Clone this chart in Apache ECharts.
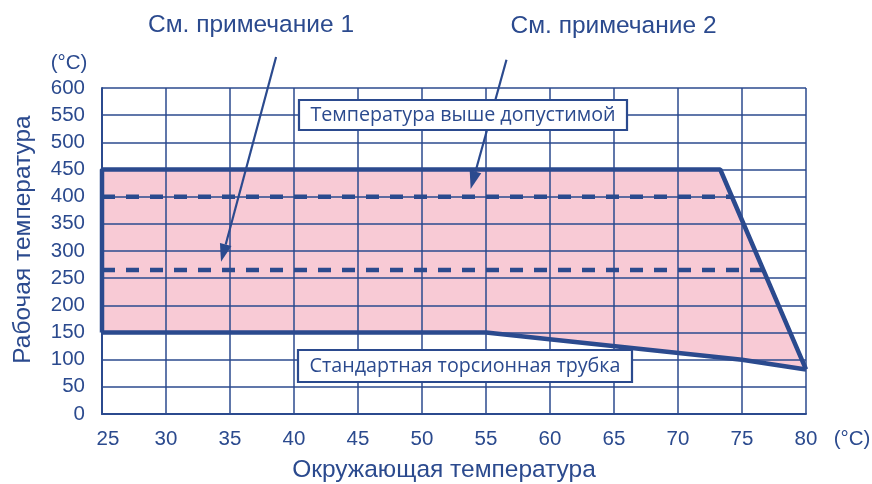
<!DOCTYPE html>
<html><head><meta charset="utf-8">
<script src="https://cdn.jsdelivr.net/npm/echarts@6/dist/echarts.min.js"></script>
<style>html,body{margin:0;padding:0;background:#fff}#c{width:872px;height:484px}</style>
</head><body><div id="c"></div>
<script>
// ---- data ----
const xTicks = [25,30,35,40,45,50,55,60,65,70,75,80];
const yTicks = [0,50,100,150,200,250,300,350,400,450,500,550,600];
const upperBoundary = [[25,150],[25,450],[73.3,450],[80,82]];
const lowerBoundary = [[25,150],[55,150],[75,100],[80,82]];
const note2Line = [[25,400],[74.2,400]];
const note1Line = [[25,265],[76.7,265]];
const regionPolygon = [[25,450],[73.3,450],[80,82],[75,100],[55,150],[25,150]];
const texts = {
  yName: 'Рабочая температура', xName: 'Окружающая температура', unit: '(°C)',
  note1: 'См. примечание 1', note2: 'См. примечание 2',
  box1: 'Температура выше допустимой', box2: 'Стандартная торсионная трубка'
};
// annotation anchors in data space
const note1Arrow = [[38.6,657],[34.3,280]];
const note2Arrow = [[56.6,652],[53.8,414]];

const BLUE = '#2b4a8e', PINK = '#f8cad5';
const FONT = 'Liberation Sans';
const chart = echarts.init(document.getElementById('c'), null, {renderer:'canvas'});
chart.setOption({
  animation:false,
  grid:{left:102,right:66,top:88,bottom:70,show:false,containLabel:false,outerBoundsMode:'none'},
  xAxis:{type:'value',min:25,max:80,interval:5,
    name:texts.xName,nameLocation:'middle',nameGap:44,
    nameTextStyle:{color:BLUE,fontSize:24.5,fontFamily:FONT,padding:[0,20,0,0]},
    axisLine:{show:true,lineStyle:{color:BLUE,width:2}},axisTick:{show:false},
    axisLabel:{color:BLUE,fontSize:20.5,fontFamily:FONT,margin:15,
      formatter:function(v){return v===xTicks[0]?'{f|'+v+'}':String(v);},
      rich:{f:{padding:[0,0,0,12],fontSize:20.5,fontFamily:FONT,color:BLUE}}},
    splitLine:{show:true,lineStyle:{color:BLUE,width:1.5}}},
  yAxis:{type:'value',min:0,max:600,interval:50,
    name:texts.yName,nameLocation:'middle',nameGap:66,nameRotate:90,
    nameTextStyle:{color:BLUE,fontSize:24.5,fontFamily:FONT,padding:[0,0,0,23]},
    axisLine:{show:true,lineStyle:{color:BLUE,width:2}},axisTick:{show:false},
    axisLabel:{color:BLUE,fontSize:20.5,fontFamily:FONT,margin:17},
    splitLine:{show:true,lineStyle:{color:BLUE,width:1.5}}},
  series:[
    {type:'custom',z:-1,silent:true,data:[0],
      renderItem:function(params,api){
        const pts = regionPolygon.map(p=>api.coord(p));
        return {type:'polygon',shape:{points:pts},style:{fill:PINK}};
      }},
    {type:'line',data:upperBoundary,symbol:'none',lineStyle:{color:BLUE,width:4.5},z:5},
    {type:'line',data:lowerBoundary,symbol:'none',lineStyle:{color:BLUE,width:4.5},z:5},
    {type:'line',data:note2Line,symbol:'none',lineStyle:{color:BLUE,width:4.5,type:[13,11]},z:4},
    {type:'line',data:note1Line,symbol:'none',lineStyle:{color:BLUE,width:4.5,type:[13,11]},z:4}
  ]
});

function px(p){return chart.convertToPixel({gridIndex:0},p);}
function arrow(a){
  const t=px(a[0]), h=px(a[1]);
  const dx=h[0]-t[0], dy=h[1]-t[1], L=Math.hypot(dx,dy), ux=dx/L, uy=dy/L;
  const al=18, aw=6;
  const bx=h[0]-ux*al, by=h[1]-uy*al;
  return [
    {type:'line',shape:{x1:t[0],y1:t[1],x2:bx,y2:by},style:{stroke:BLUE,lineWidth:2.2},z:10},
    {type:'polygon',shape:{points:[[h[0],h[1]],[bx-uy*aw,by+ux*aw],[bx+uy*aw,by-ux*aw]]},style:{fill:BLUE},z:10}
  ];
}
function box(cx,cy,w,h,text){
  return [
    {type:'rect',shape:{x:cx-w/2,y:cy-h/2,width:w,height:h},style:{fill:'#fff',stroke:BLUE,lineWidth:2.2},z:20},
    {type:'text',x:cx,y:cy,style:{text:text,fill:BLUE,fontSize:19.7,fontFamily:'Open Sans',align:'center',verticalAlign:'middle'},z:21}
  ];
}
const g=[];
g.push(...arrow(note1Arrow),...arrow(note2Arrow));
g.push(...box(463,115,328,30,texts.box1));
g.push(...box(465,366,334,32,texts.box2));
g.push({type:'text',x:251,y:25.5,style:{text:texts.note1,fill:BLUE,fontSize:24.5,fontFamily:FONT,align:'center',verticalAlign:'middle'},z:10});
g.push({type:'text',x:613.5,y:26.5,style:{text:texts.note2,fill:BLUE,fontSize:24.5,fontFamily:FONT,align:'center',verticalAlign:'middle'},z:10});
g.push({type:'text',x:69,y:63,style:{text:texts.unit,fill:BLUE,fontSize:20.5,fontFamily:FONT,align:'center',verticalAlign:'middle'},z:10});
g.push({type:'text',x:852,y:439,style:{text:texts.unit,fill:BLUE,fontSize:20.5,fontFamily:FONT,align:'center',verticalAlign:'middle'},z:10});
chart.setOption({graphic:g});
</script></body></html>
